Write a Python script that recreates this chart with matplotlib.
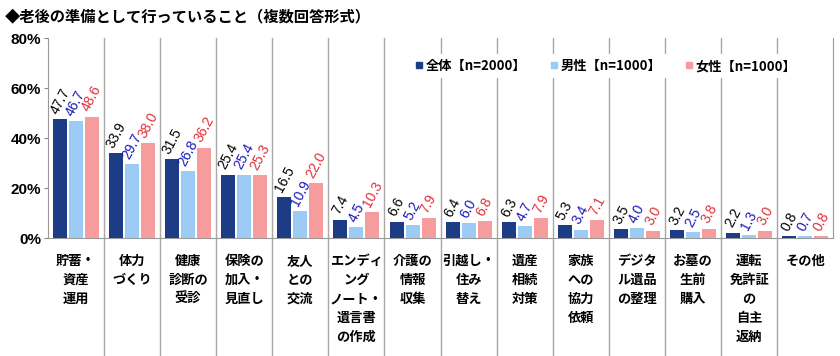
import matplotlib
matplotlib.use('Agg')
import matplotlib.pyplot as plt
from matplotlib.lines import Line2D
import numpy as np

# data
categories = ['貯蓄・\n資産\n運用', '体力\nづくり', '健康\n診断の\n受診', '保険の\n加入・\n見直し',
              '友人\nとの\n交流', 'エンディ\nング\nノート・\n遺言書\nの作成', '介護の\n情報\n収集',
              '引越し・\n住み\n替え', '遺産\n相続\n対策', '家族\nへの\n協力\n依頼',
              'デジタ\nル遺品\nの整理', 'お墓の\n生前\n購入', '運転\n免許証\nの\n自主\n返納', 'その他']
total = [47.7, 33.9, 31.5, 25.4, 16.5, 7.4, 6.6, 6.4, 6.3, 5.3, 3.5, 3.2, 2.2, 0.8]
male = [46.7, 29.7, 26.8, 25.4, 10.9, 4.5, 5.2, 6.0, 4.7, 3.4, 4.0, 2.5, 1.3, 0.7]
female = [48.6, 38.0, 36.2, 25.3, 22.0, 10.3, 7.9, 6.8, 7.9, 7.1, 3.0, 3.8, 3.0, 0.8]
series_names = ['全体【n=2000】', '男性【n=1000】', '女性【n=1000】']
yticks = [0, 20, 40, 60, 80]
title = '◆老後の準備として行っていること（複数回答形式）'

bar_colors = ['#1c3d86', '#9ccbf5', '#f79c9c']
text_colors = ['#000000', '#1a1ab8', '#e0303a']
JP = ['Noto Sans CJK JP', 'DejaVu Sans']
NUM = ['Liberation Sans', 'Noto Sans CJK JP']

fig = plt.figure(figsize=(8.4, 3.56), dpi=100)
ax = fig.add_axes([0.057, 0.331, 0.935, 0.562])

x = np.arange(len(categories))
w = 0.25
offs = [-0.285, 0, 0.285]
for vals, off, bc, tc in zip([total, male, female], offs, bar_colors, text_colors):
    ax.bar(x + off, vals, width=w, color=bc, zorder=3)
    for xi, v in zip(x, vals):
        ax.annotate(f'{v:.1f}', (xi + off, v), xytext=(0, 2), textcoords='offset points',
                    rotation=62, ha='center', va='bottom', fontsize=10,
                    color=tc, family=NUM)

ax.set_xlim(-0.5, len(categories) - 0.5)
ax.set_ylim(0, 80)
ax.set_yticks(yticks)
ax.set_yticklabels([f'{t}%' for t in yticks], fontsize=11, fontweight='bold', family=NUM)
ax.tick_params(axis='y', length=3, color='#888888', pad=2)
ax.set_xticks([])

ax.spines['top'].set_visible(False)
for s in ['left', 'bottom', 'right']:
    ax.spines[s].set_color('#999999')

# category separators running down through the label area
trans = ax.get_xaxis_transform()
for b in np.arange(0.5, len(categories) - 0.5, 1):
    ax.plot([b, b], [1, -0.6], transform=trans, color='#a8a8a8', lw=1, clip_on=False, zorder=1)

for xi, lab in zip(x, categories):
    ax.text(xi, -0.08, lab, transform=trans, ha='center', va='top', fontsize=9.5,
            fontweight='bold', family=JP, linespacing=1.45)

handles = [Line2D([], [], marker='s', ls='', color=c, markersize=4) for c in bar_colors]
leg = ax.legend(handles, series_names, loc='center', bbox_to_anchor=(0.71, 0.86), ncol=3,
                frameon=True, facecolor='white', edgecolor='none', framealpha=1,
                handlelength=0.6, handletextpad=0.2, columnspacing=1.8,
                prop={'family': JP, 'weight': 'bold', 'size': 9.5})
leg.set_zorder(5)

fig.text(0.006, 0.955, title, fontsize=11, fontweight='bold', family=JP, va='center', ha='left')

fig.savefig('out.png', dpi=100)
